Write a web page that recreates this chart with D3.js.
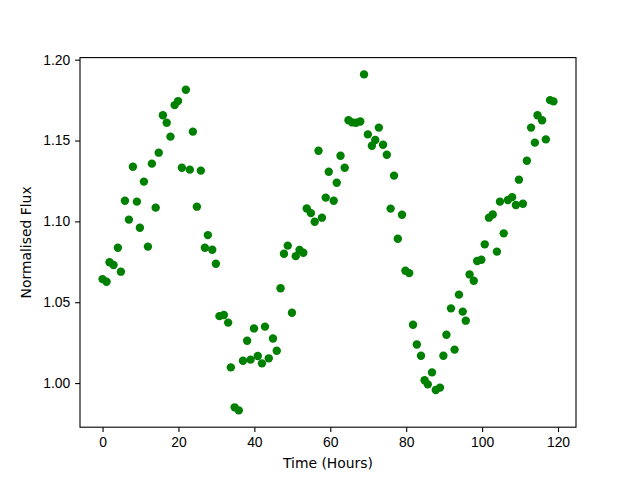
<!DOCTYPE html>
<html>
<head>
<meta charset="utf-8">
<script src="https://d3js.org/d3.v7.min.js"></script>
<style>
  body { margin: 0; background: #fff; }
  svg { font-family: "DejaVu Sans", sans-serif; }
  .tick text { font-size: 13.9px; fill: #000; }
</style>
</head>
<body>
<div class="vis-holder"></div>
<script>
// time of each observation, in hours
var times = [
  0, 1.05, 1.84, 2.9, 4.04, 4.83, 5.9, 6.95, 8.0, 9.05,
  9.84, 10.9, 11.95, 13.0, 14.0, 14.8, 15.9, 16.9, 17.9, 19.0,
  19.9, 20.9, 21.95, 23.0, 23.8, 24.85, 25.9, 26.96, 27.75, 28.9,
  29.86, 30.8, 31.97, 33.1, 33.8, 34.8, 35.9, 37.0, 38.1, 39.0,
  39.9, 40.9, 42.0, 42.8, 43.8, 44.9, 45.9, 46.9, 47.8, 48.8,
  49.9, 50.9, 51.9, 52.9, 53.8, 54.9, 55.9, 56.9, 57.8, 58.8,
  59.6, 60.9, 61.7, 62.7, 63.8, 64.8, 65.8, 66.8, 67.9, 68.9,
  69.9, 70.96, 71.85, 72.8, 73.9, 74.9, 75.9, 76.8, 77.8, 78.9,
  79.8, 80.8, 81.8, 82.8, 83.9, 84.85, 85.7, 86.8, 87.8, 88.9,
  89.8, 90.6, 91.8, 92.75, 93.9, 94.9, 95.7, 96.7, 97.8, 98.7,
  99.8, 100.7, 101.8, 102.8, 103.9, 104.7, 105.7, 106.8, 107.9, 108.9,
  109.7, 110.75, 111.8, 112.9, 113.9, 114.6, 115.8, 116.8, 117.9, 118.8
];

// normalised flux at each time
var flux = [
  1.0643, 1.0627, 1.0747, 1.0730, 1.0837, 1.0689, 1.1128, 1.1011, 1.1338, 1.1122,
  1.0961, 1.1246, 1.0844, 1.1357, 1.1085, 1.1425, 1.1656, 1.1610, 1.1524, 1.1719,
  1.1744, 1.1332, 1.1814, 1.1320, 1.1555, 1.1091, 1.1314, 1.0837, 1.0915, 1.0825,
  1.0738, 1.0414, 1.0421, 1.0374, 1.0097, 0.9850, 0.9831, 1.0138, 1.0262, 1.0145,
  1.0338, 1.0167, 1.0122, 1.0349, 1.0153, 1.0276, 1.0200, 1.0586, 1.0800, 1.0850,
  1.0435, 1.0785, 1.0823, 1.0806, 1.1080, 1.1051, 1.0998, 1.1437, 1.1023, 1.1147,
  1.1307, 1.1128, 1.1239, 1.1406, 1.1332, 1.1625, 1.1612, 1.1610, 1.1618, 1.1909,
  1.1538, 1.1468, 1.1503, 1.1580, 1.1474, 1.1412, 1.1079, 1.1283, 1.0893, 1.1041,
  1.0695, 1.0680, 1.0361, 1.0239, 1.0169, 1.0017, 0.9992, 1.0066, 0.9957, 0.9972,
  1.0169, 1.0299, 1.0462, 1.0207, 1.0547, 1.0442, 1.0386, 1.0672, 1.0633, 1.0755,
  1.0763, 1.0858, 1.1023, 1.1043, 1.0813, 1.1122, 1.0926, 1.1132, 1.1150, 1.1101,
  1.1258, 1.1109, 1.1375, 1.1580, 1.1487, 1.1656, 1.1625, 1.1507, 1.1750, 1.1742
];

// tick values for both axes
var xTicks = [0, 20, 40, 60, 80, 100, 120];
var yTicks = [1.00, 1.05, 1.10, 1.15, 1.20];

var mydata = times.map(function(t, i) { return { time: t, flux: flux[i] }; });

// svg width and height
var width = 640;
var height = 480;
// margins around the axes (matplotlib default subplot params)
var margin = {
  top: 57.6,
  bottom: 52.8,
  left: 80,
  right: 64
};

var svg = d3.select(".vis-holder")
            .append("svg")
            .attr("width", width)
            .attr("height", height);

// pad the data range by 5% on each side like matplotlib does
function padded(ext) {
  var pad = (ext[1] - ext[0]) * 0.05;
  return [ext[0] - pad, ext[1] + pad];
}

var xScale = d3.scaleLinear()
               .domain(padded(d3.extent(times)))
               .range([margin.left, width - margin.right]);

var yScale = d3.scaleLinear()
               .domain(padded(d3.extent(flux)))
               .range([height - margin.bottom, margin.top]);

// x-axis
var xAxis = svg.append("g")
               .attr("transform", `translate(0, ${height - margin.bottom})`)
               .call(d3.axisBottom(xScale)
                       .tickValues(xTicks)
                       .tickSize(4.9)
                       .tickPadding(4.9)
                       .tickSizeOuter(0));

// y-axis
var yAxis = svg.append("g")
               .attr("transform", `translate(${margin.left}, 0)`)
               .call(d3.axisLeft(yScale)
                       .tickValues(yTicks)
                       .tickFormat(d3.format(".2f"))
                       .tickSize(4.9)
                       .tickPadding(4.9)
                       .tickSizeOuter(0));

svg.selectAll(".domain").remove();
svg.selectAll(".tick line").attr("stroke", "#000").attr("stroke-width", 1.1);

// frame around the plot area
svg.append("rect")
   .attr("x", margin.left)
   .attr("y", margin.top)
   .attr("width", width - margin.left - margin.right)
   .attr("height", height - margin.top - margin.bottom)
   .attr("fill", "none")
   .attr("stroke", "#000")
   .attr("stroke-width", 1.1);

// scatter points
svg.append("g")
   .selectAll("circle")
   .data(mydata)
   .enter()
   .append("circle")
   .attr("cx", function(d) { return xScale(d.time); })
   .attr("cy", function(d) { return yScale(d.flux); })
   .attr("r", 4.2)
   .attr("fill", "#008000");

// x-axis title
svg.append("text")
   .attr("text-anchor", "middle")
   .attr("font-size", "13.9px")
   .attr("transform", "translate(" + (margin.left + (width - margin.left - margin.right) / 2) + "," + 468 + ")")
   .text("Time (Hours)");

// y-axis title
svg.append("text")
   .attr("text-anchor", "middle")
   .attr("font-size", "13.9px")
   .attr("transform", "translate(" + 31 + "," + (margin.top + (height - margin.top - margin.bottom) / 2) + ")rotate(-90)")
   .text("Normalised Flux");
</script>
</body>
</html>
